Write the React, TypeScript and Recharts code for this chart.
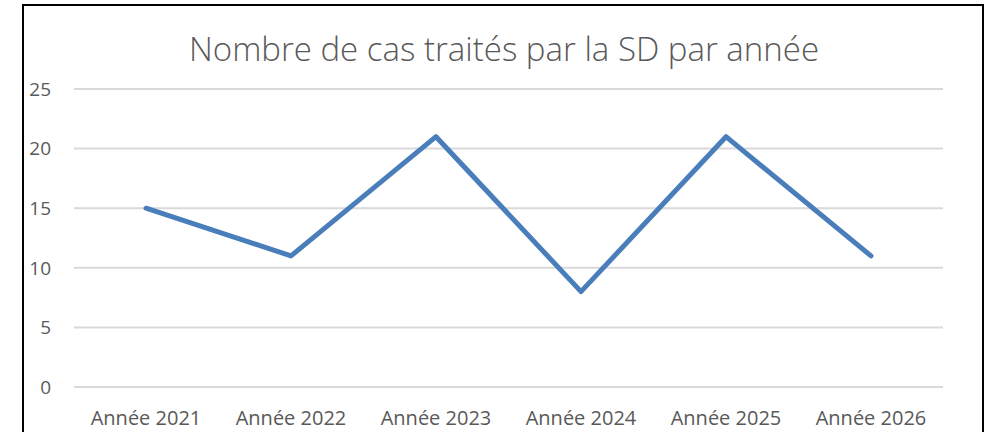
import React from 'react'
import { LineChart, Line, XAxis, YAxis, CartesianGrid } from 'recharts'

const years = ['Année 2021', 'Année 2022', 'Année 2023', 'Année 2024', 'Année 2025', 'Année 2026']
const cases = [15, 11, 21, 8, 21, 11]
const yTicks = [0, 5, 10, 15, 20, 25]

const data = years.map((year, i) => ({ year, cases: cases[i] }))

const FONT = '"Open Sans", "Noto Sans", sans-serif'
const TEXT = '#595959'

export default function App(): JSX.Element {
  return (
    <div style={{ position: 'absolute', left: 0, top: 0, width: 991, height: 432, overflow: 'hidden', background: '#fff' }}>
      <div
        style={{
          position: 'absolute',
          left: 22,
          top: 4,
          width: 958,
          height: 500,
          border: '2px solid #000',
        }}
      />
      <div
        style={{
          position: 'absolute',
          left: 0,
          top: 27,
          width: 1008,
          textAlign: 'center',
          fontFamily: FONT,
          fontSize: 33,
          fontWeight: 300,
          color: TEXT,
          lineHeight: '44px',
        }}
      >
        Nombre de cas traités par la SD par année
      </div>
      <div style={{ position: 'absolute', left: 0, top: 0 }}>
        <LineChart width={991} height={432} data={data} margin={{ top: 89, right: 48, bottom: 0, left: 0 }}>
          <CartesianGrid vertical={false} stroke="#d9d9d9" strokeWidth={2} />
          <XAxis
            dataKey="year"
            axisLine={false}
            tickLine={false}
            tickSize={0}
            tickMargin={24}
            height={45}
            padding={{ left: 72, right: 72 }}
            tick={{ fill: TEXT, fontSize: 20, fontFamily: FONT }}
          />
          <YAxis
            domain={[0, 25]}
            ticks={yTicks}
            axisLine={false}
            tickLine={false}
            tickSize={0}
            tickMargin={23}
            width={74}
            tick={{ fill: TEXT, fontSize: 19, fontFamily: FONT }}
          />
          <Line
            type="linear"
            dataKey="cases"
            stroke="#4a7ebb"
            strokeWidth={5}
            strokeLinecap="round"
            strokeLinejoin="round"
            dot={false}
            activeDot={false}
            isAnimationActive={false}
          />
        </LineChart>
      </div>
    </div>
  )
}
